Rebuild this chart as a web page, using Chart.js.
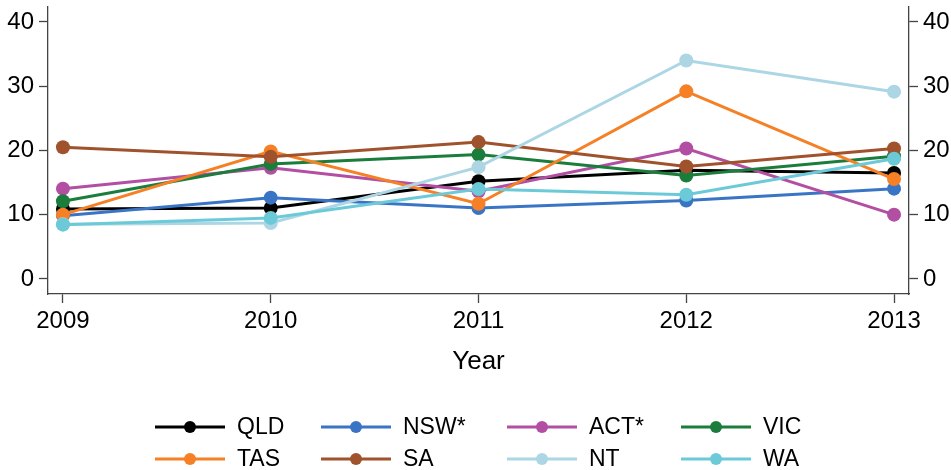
<!DOCTYPE html>
<html>
<head>
<meta charset="utf-8">
<script src="https://cdn.jsdelivr.net/npm/chart.js@4"></script>
<style>
  html, body { margin: 0; padding: 0; background: #fff; }
  #wrap { width: 951px; height: 470px; position: relative; }
</style>
</head>
<body>
<div id="wrap"><canvas id="chart"></canvas></div>
<script>
// Années et valeurs par État
const years = [2009, 2010, 2011, 2012, 2013];
const yTicks = [0, 10, 20, 30, 40];

const QLD = [10.9, 11.05, 15.2, 16.9, 16.5];
const NSW = [9.85, 12.65, 11.05, 12.2, 14.05];
const ACT = [14.05, 17.3, 13.65, 20.3, 10.0];
const VIC = [12.1, 17.9, 19.35, 16.1, 19.1];
const TAS = [10.0, 19.85, 11.7, 29.2, 15.55];
const SA = [20.5, 19.0, 21.3, 17.5, 20.3];
const NT = [8.5, 8.7, 17.4, 34.0, 29.15];
const WA = [8.45, 9.5, 14.0, 13.1, 18.7];

const seriesNames = ['QLD', 'NSW*', 'ACT*', 'VIC', 'TAS', 'SA', 'NT', 'WA'];
const seriesValues = [QLD, NSW, ACT, VIC, TAS, SA, NT, WA];
const seriesColors = ['#000000', '#3a75c5', '#b24fa2', '#1a7d3c', '#f58025', '#a0522d', '#add6e4', '#6ccad8'];

const FONT = 'Liberation Sans, Arial, Helvetica, sans-serif';
const axisColor = '#444';

// Légende en colonnes, dessinée à la main (style Stata)
const columnLegend = {
    id: 'columnLegend',
    afterDraw(chart) {
        const ctx = chart.ctx;
        const colX = [155, 321, 507, 681];
        const rowY = [427, 459];
        ctx.save();
        ctx.font = '23px ' + FONT;
        ctx.textBaseline = 'middle';
        ctx.textAlign = 'left';
        chart.data.datasets.forEach((ds, i) => {
            const x = colX[i % 4];
            const y = rowY[Math.floor(i / 4)];
            ctx.strokeStyle = ds.borderColor;
            ctx.lineWidth = 2.8;
            ctx.beginPath();
            ctx.moveTo(x, y);
            ctx.lineTo(x + 70, y);
            ctx.stroke();
            ctx.fillStyle = ds.borderColor;
            ctx.beginPath();
            ctx.arc(x + 35, y, 6, 0, Math.PI * 2);
            ctx.fill();
            ctx.fillStyle = '#000';
            ctx.fillText(ds.label, x + 82, y + 1);
        });
        ctx.restore();
    }
};

const datasets = seriesNames.map((name, i) => ({
    label: name,
    data: years.map((yr, j) => ({ x: yr, y: seriesValues[i][j] })),
    borderColor: seriesColors[i],
    backgroundColor: seriesColors[i],
    borderWidth: 3,
    pointRadius: 7,
    pointHoverRadius: 7,
    pointBorderWidth: 0,
    tension: 0,
    order: seriesNames.length - i // les dernières séries au-dessus
}));

const tickFont = { family: FONT, size: 24 };
const gridOpts = { drawOnChartArea: false, drawTicks: true, tickLength: 9, tickColor: axisColor, tickWidth: 1.3 };
const borderOpts = { display: true, color: axisColor, width: 1.3 };

// Pas de marge automatique pour les étiquettes d'extrémité
function noPadding(s) {
    s.paddingTop = 0;
    s.paddingBottom = 0;
    s.paddingLeft = 0;
    s.paddingRight = 0;
}

const ctx = document.getElementById('chart').getContext('2d');
const chart = new Chart(ctx, {
    type: 'line',
    data: { datasets: datasets },
    options: {
        responsive: true,
        maintainAspectRatio: false,
        animation: false,
        layout: { padding: { top: 7, bottom: 470 - 294 - 83, left: 0, right: 0 } },
        plugins: {
            legend: { display: false },
            tooltip: { enabled: false }
        },
        scales: {
            x: {
                type: 'linear',
                min: 2008.928,
                max: 2013.072,
                afterBuildTicks: s => { s.ticks = years.map(v => ({ value: v })); },
                afterFit: s => { noPadding(s); s.height = 83; },
                ticks: {
                    font: tickFont,
                    color: '#000',
                    padding: 4,
                    maxRotation: 0,
                    callback: v => String(v)
                },
                grid: gridOpts,
                border: borderOpts,
                title: {
                    display: true,
                    text: 'Year',
                    color: '#000',
                    font: { family: FONT, size: 26 },
                    padding: 0
                }
            },
            y: {
                type: 'linear',
                position: 'left',
                min: -2.35,
                max: 42.33,
                afterBuildTicks: s => { s.ticks = yTicks.map(v => ({ value: v })); },
                afterFit: s => { noPadding(s); s.width = 48; },
                ticks: { font: tickFont, color: '#000', padding: 5 },
                grid: gridOpts,
                border: borderOpts
            },
            y2: {
                type: 'linear',
                position: 'right',
                display: true,
                min: -2.35,
                max: 42.33,
                afterBuildTicks: s => { s.ticks = yTicks.map(v => ({ value: v })); },
                afterFit: s => { noPadding(s); s.width = 42; },
                ticks: { font: tickFont, color: '#000', padding: 5 },
                grid: gridOpts,
                border: borderOpts
            }
        }
    },
    plugins: [columnLegend]
});
</script>
</body>
</html>
